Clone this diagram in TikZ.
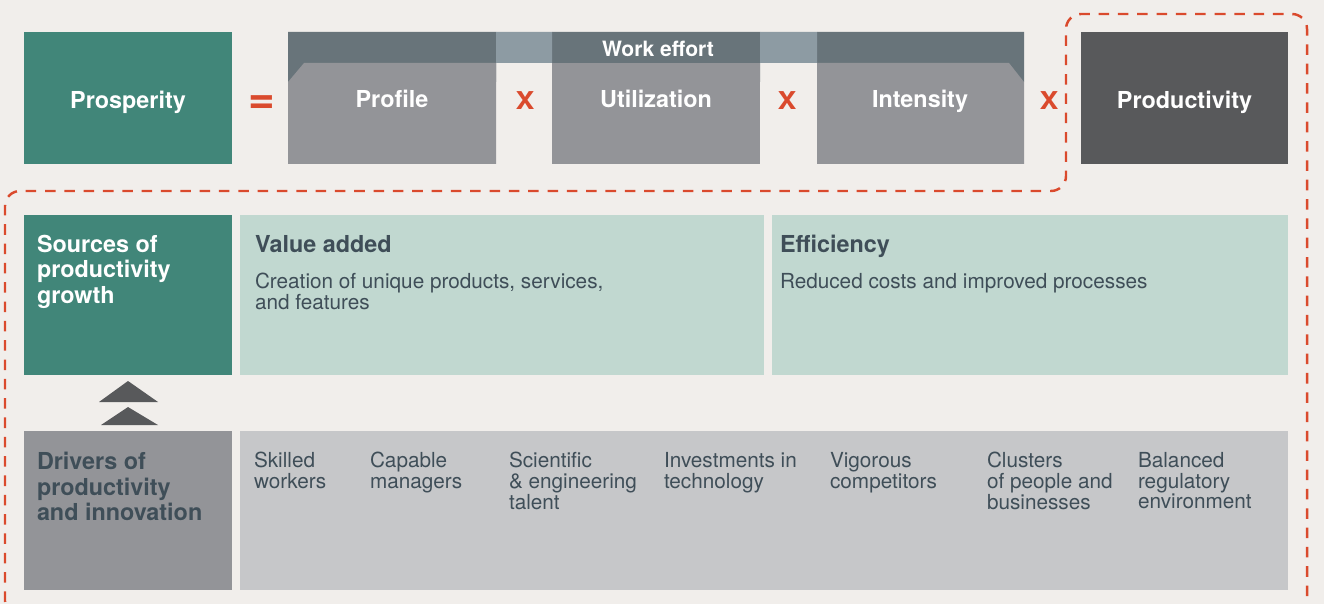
\documentclass[tikz,border=0pt]{standalone}
\usepackage{fontspec}
\setmainfont{TeX Gyre Heros}
\usepackage{xcolor}
\usepackage{graphicx}
\usepackage{tikz}
\usetikzlibrary{positioning}

\definecolor{bgpaper}{HTML}{F1EEEB}
\definecolor{prosteal}{HTML}{418679}
\definecolor{effortdark}{HTML}{68747A}
\definecolor{effortlight}{HTML}{8D9BA3}
\definecolor{boxgrey}{HTML}{939498}
\definecolor{prodgrey}{HTML}{58595B}
\definecolor{paleteal}{HTML}{C1D8D0}
\definecolor{palegrey}{HTML}{C6C7C9}
\definecolor{signred}{HTML}{DA4A2D}
\definecolor{textslate}{HTML}{3F4E58}

\newcommand{\timessign}{\scalebox{1.15}[1]{X}}

\begin{document}
\begin{tikzpicture}[x=0.02cm, y=-0.02cm,
    every node/.style = {inner sep=0pt, outer sep=0pt},
    topbox/.style = {minimum width=4.16cm, minimum height=2.64cm, text=white,
      text height=12pt, text depth=0pt,
      font=\fontsize{13.3}{14.6}\selectfont\bfseries},
    efforttext/.style = {anchor=base, text=white,
      font=\fontsize{13.3}{14.6}\selectfont\bfseries},
    panel/.style = {anchor=north west, minimum height=3.2cm},
    headtext/.style = {anchor=north west, align=left,
      font=\fontsize{13.3}{14.6}\selectfont\bfseries},
    bodytext/.style = {anchor=north west, align=left, text=textslate,
      font=\fontsize{11.8}{11.9}\selectfont},
    sign/.style = {anchor=base, text=signred},
    timestext/.style = {sign, font=\fontsize{14}{14}\selectfont\bfseries},
    dashborder/.style = {draw=signred, line width=1.4pt,
      dash pattern=on 6pt off 5pt, rounded corners=0.3cm}]

  \fill[bgpaper] (0,0) rectangle (1324,604);
  \useasboundingbox (0,0) rectangle (1324,604);
  \clip (0,0) rectangle (1324,604);

  % top row: prosperity = work effort x productivity
  \node[topbox, fill=prosteal] (prosperity) at (128,98) {Prosperity};
  \node[sign, font=\fontsize{26}{26}\selectfont\bfseries] (equals) at (262,114) {=};

  \fill[effortdark] (288,32) rectangle (496,82) (552,32) rectangle (760,82)
    (817,32) rectangle (1024,82);
  \fill[effortlight] (496,32) rectangle (552,63) (760,32) rectangle (817,63);
  \fill[boxgrey] (288,82) -- (304,63) -- (496,63) -- (496,164) -- (288,164) -- cycle;
  \fill[boxgrey] (552,63) rectangle (760,164);
  \fill[boxgrey] (817,63) -- (1009,63) -- (1024,82) -- (1024,164) -- (817,164) -- cycle;

  \node[efforttext, font=\fontsize{12}{12}\selectfont\bfseries] (workeffort) at (658,57) {Work effort};
  \node[efforttext] (profile) at (392,108) {Profile};
  \node[timestext] (times1) at (525,110) {\timessign};
  \node[efforttext] (utilization) at (656,108) {Utilization};
  \node[timestext] (times2) at (787,110) {\timessign};
  \node[efforttext] (intensity) at (920,108) {Intensity};
  \node[timestext] (times3) at (1049,110) {\timessign};

  \node[topbox, fill=prodgrey, minimum width=4.14cm] (productivity) at (1184.5,98) {Productivity};

  % sources of growth
  \node[panel, fill=prosteal, minimum width=4.16cm] (sources) at (24,215) {};
  \node[headtext, text=white] (sourcestext) at ([shift={(13,20)}]sources.north west)
    {Sources of\\productivity\\growth};
  \node[panel, fill=paleteal, minimum width=10.48cm] (valueadded) at (240,215) {};
  \node[headtext, text=textslate] (valuetitle) at ([shift={(15,20)}]valueadded.north west) {Value added};
  \node[bodytext] (valuetext) at ([shift={(15,58)}]valueadded.north west)
    {Creation of unique products, services,\\and features};
  \node[panel, fill=paleteal, minimum width=10.32cm] (efficiency) at (772,215) {};
  \node[headtext, text=textslate] (efftitle) at ([shift={(8,20)}]efficiency.north west) {Efficiency};
  \node[bodytext] (efftext) at ([shift={(8,58)}]efficiency.north west)
    {Reduced costs and improved processes};

  % arrows up
  \fill[prodgrey] (99,402) -- (128,381) -- (158,402) -- cycle;
  \fill[prodgrey] (101,425) -- (128,407) -- (158,425) -- cycle;

  % drivers
  \node[panel, fill=boxgrey, minimum width=4.16cm, minimum height=3.18cm] (drivers) at (24,431) {};
  \node[headtext, text=textslate] (driverstext) at ([shift={(13,21)}]drivers.north west)
    {Drivers of\\productivity\\and innovation};
  \node[panel, fill=palegrey, minimum width=20.96cm, minimum height=3.18cm] (driverlist) at (240,431) {};
  \node[bodytext] (skilled) at (254,452) {Skilled\\workers};
  \node[bodytext] (capable) at (370,452) {Capable\\managers};
  \node[bodytext] (scientific) at (509,452) {Scientific\\\& engineering\\talent};
  \node[bodytext] (investments) at (664,452) {Investments in\\technology};
  \node[bodytext] (vigorous) at (830,452) {Vigorous\\competitors};
  \node[bodytext] (clusters) at (987,452) {Clusters\\of people and\\businesses};
  \node[bodytext] (balanced) at (1138,452) {Balanced\\regulatory\\environment};

  % productivity outline
  \draw[dashborder] (1200,14) -- (1307,14) -- (1307,616) -- (5,616) -- (5,191)
    -- (1066,191) -- (1066,14) -- cycle;
\end{tikzpicture}
\end{document}
